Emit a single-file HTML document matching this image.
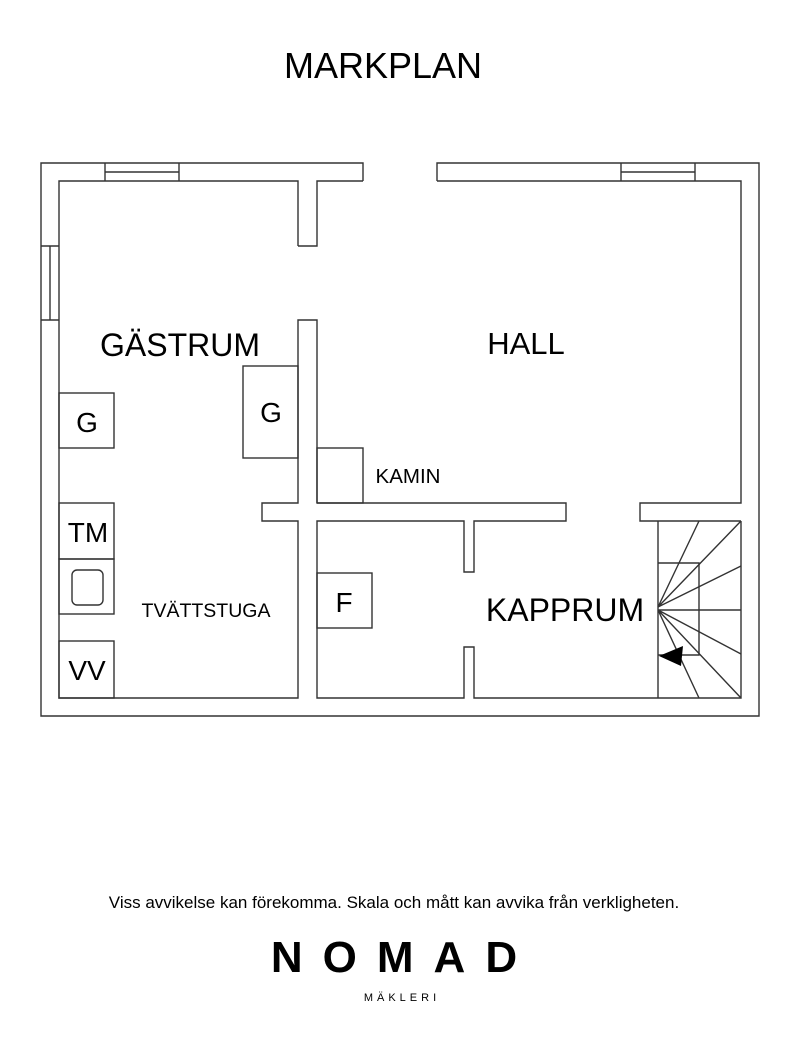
<!DOCTYPE html>
<html><head><meta charset="utf-8"><style>
html,body{margin:0;padding:0;background:#fff;width:800px;height:1054px;overflow:hidden}
svg{display:block}
text{font-family:"Liberation Sans",sans-serif;fill:#000}
</style></head><body>
<svg width="800" height="1054" viewBox="0 0 800 1054" xmlns="http://www.w3.org/2000/svg">
<text x="383" y="78" font-size="36" text-anchor="middle">MARKPLAN</text>
<g fill="none" stroke="#333" stroke-width="1.4">
<path d="M363,181 V163 H41 V716 H759 V163 H437 V181"/>
<path d="M105,163 V181 M179,163 V181 M105,172 H179"/>
<path d="M621,163 V181 M695,163 V181 M621,172 H695"/>
<path d="M41,246 H59 M41,320 H59 M50,246 V320"/>
<path d="M298,246 V181 H59 V698 H298 V521 H262 V503 H298 V320 H317 V503"/>
<path d="M298,246 H317 V181 H363"/>
<path d="M437,181 H741 V503 H640 V521 H741"/>
<path d="M317,503 H566 V521 H474 V572 H464 V521 H317 V698 H464 V647 H474 V698 H741 V521"/>
<rect x="243" y="366" width="55" height="92"/>
<rect x="317" y="448" width="46" height="55"/>
<rect x="59" y="393" width="55" height="55"/>
<rect x="59" y="503" width="55" height="56"/>
<rect x="59" y="559" width="55" height="55"/>
<rect x="72" y="570" width="31" height="35" rx="5"/>
<rect x="59" y="641" width="55" height="57"/>
<rect x="317" y="573" width="55" height="55"/>
<path d="M658,521 V698 M658,563 H699 V655 H658 M658,610 H741"/>
<path d="M658,607 L699,521 M658,607 L741,521 M658,607 L741,566 M658,610 L741,654 M658,610 L741,698 M658,610 L699,698"/>
</g>
<polygon points="659,656 683,646 681,666" fill="#000"/>
<text x="180" y="356" font-size="32" text-anchor="middle">GÄSTRUM</text>
<text x="526" y="354" font-size="31" text-anchor="middle">HALL</text>
<text x="271" y="422" font-size="28" text-anchor="middle">G</text>
<text x="87" y="432" font-size="28" text-anchor="middle">G</text>
<text x="408" y="483" font-size="20.5" text-anchor="middle">KAMIN</text>
<text x="88" y="542" font-size="28" text-anchor="middle">TM</text>
<text x="87" y="680" font-size="28" text-anchor="middle">VV</text>
<text x="206" y="617" font-size="19.5" text-anchor="middle">TVÄTTSTUGA</text>
<text x="344" y="612" font-size="28" text-anchor="middle">F</text>
<text x="565" y="621" font-size="32" text-anchor="middle">KAPPRUM</text>
<text x="394" y="908" font-size="17" text-anchor="middle">Viss avvikelse kan förekomma. Skala och mått kan avvika från verkligheten.</text>
<text x="404" y="972" font-size="44" font-weight="bold" text-anchor="middle" letter-spacing="20">NOMAD</text>
<text x="402" y="1001" font-size="11" text-anchor="middle" letter-spacing="4">MÄKLERI</text>
</svg>
</body></html>
